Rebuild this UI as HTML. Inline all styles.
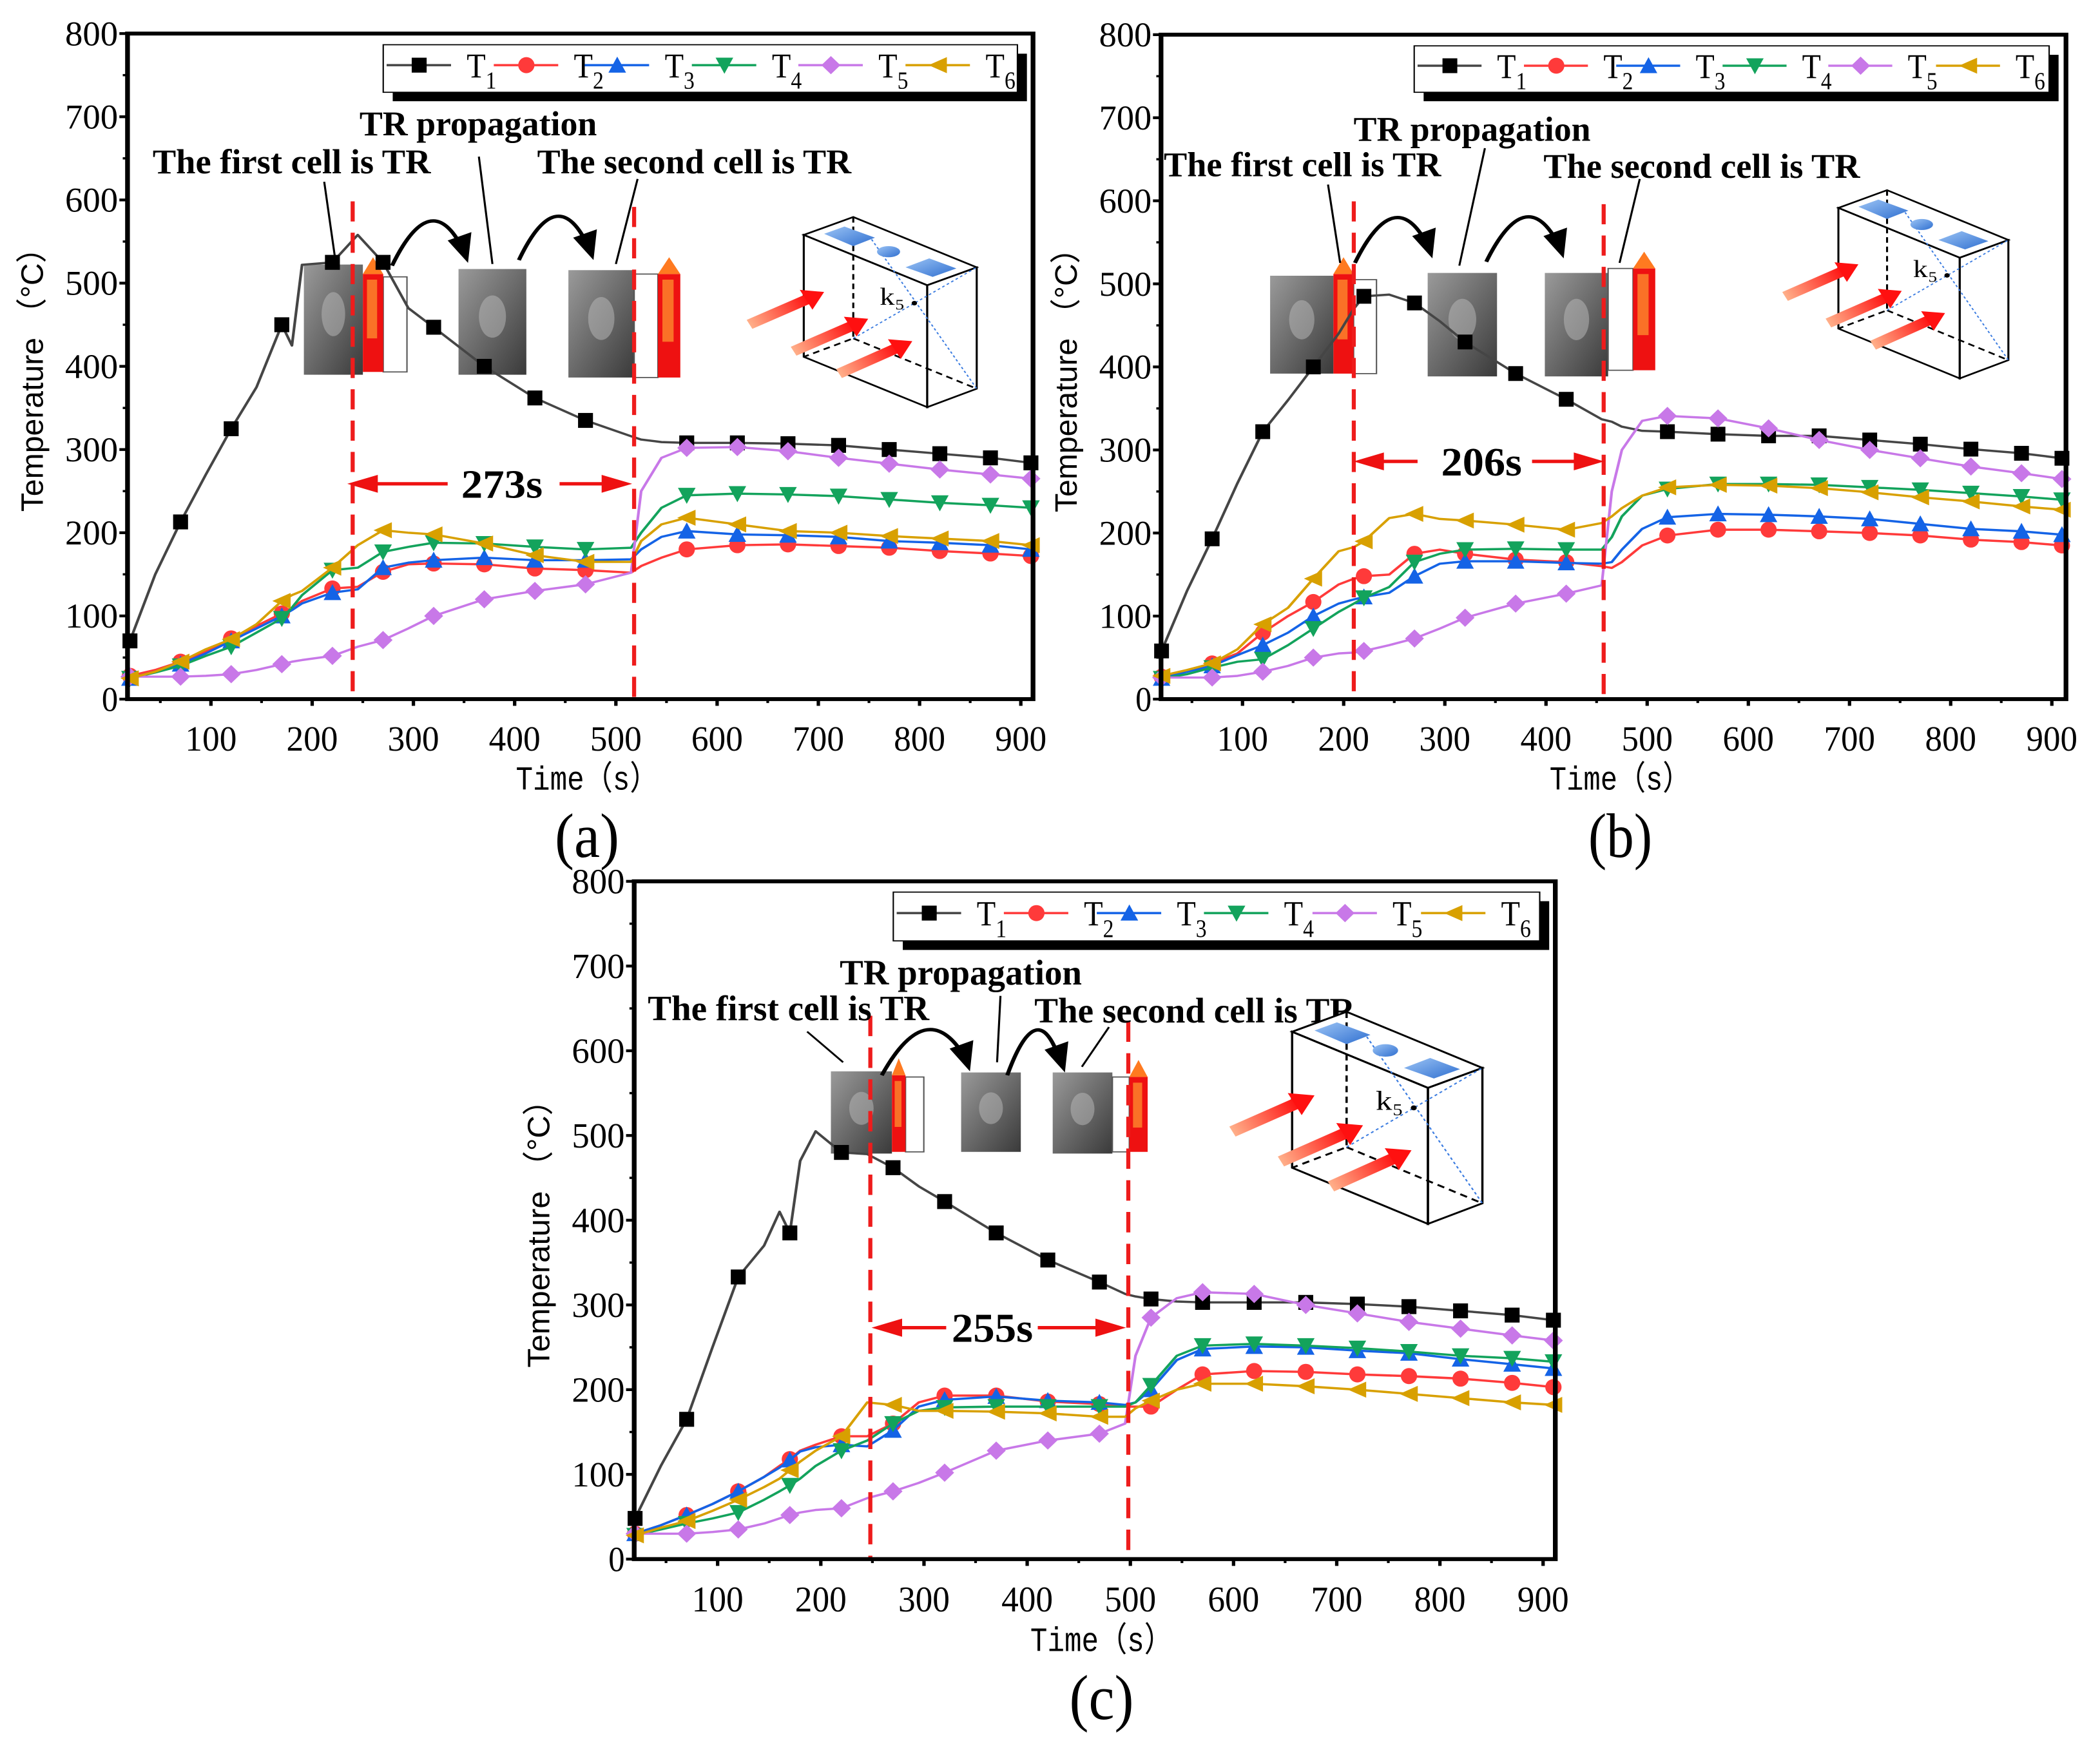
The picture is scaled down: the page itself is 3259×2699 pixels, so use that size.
<!DOCTYPE html>
<html><head><meta charset="utf-8"><style>
html,body{margin:0;padding:0;background:#fff}
svg{display:block}
</style></head><body>
<svg id="fig" width="3259" height="2699" viewBox="0 0 3259 2699" xmlns="http://www.w3.org/2000/svg"></svg>
<script>
// ---------- data ----------
const seriesNames = ['T1','T2','T3','T4','T5','T6'];
const yTicks = [0,100,200,300,400,500,600,700,800];
const xTicks = [100,200,300,400,500,600,700,800,900];

const timesA = [20,45,70,95,120,145,170,180,190,220,245,270,295,320,370,420,470,515,525,545,570,620,670,720,770,820,870,910];
const a_T1 = [70,150,213,270,325,375,450,425,522,525,558,525,470,447,400,362,335,316,312,309,308,308,307,305,300,295,290,284];
const a_T2 = [28,35,45,57,73,88,103,110,118,133,135,153,162,163,162,157,155,152,160,170,180,185,186,184,182,178,175,172];
const a_T3 = [25,33,42,55,70,85,100,107,115,128,132,158,164,167,170,167,167,168,180,195,202,198,197,195,190,188,185,180];
const a_T4 = [25,32,40,52,63,80,97,110,125,155,158,177,183,188,187,183,180,182,200,230,245,247,246,244,240,236,233,230];
const a_T5 = [27,27,27,28,30,35,42,45,47,52,63,71,85,100,120,130,138,152,250,290,302,303,298,290,283,276,270,265];
const a_T6 = [25,33,45,60,72,90,118,125,130,158,185,203,200,198,187,173,165,165,190,210,218,210,202,200,196,193,190,185];

const timesB = [20,45,70,95,120,145,170,195,210,220,245,270,295,320,370,420,455,465,475,495,520,570,620,670,720,770,820,870,910];
const b_T1 = [58,130,193,260,322,360,400,440,470,485,487,477,455,430,392,361,337,334,328,323,322,319,317,317,312,307,301,296,290];
const b_T2 = [27,33,43,55,80,100,117,138,145,148,150,175,180,175,168,165,160,158,165,185,197,204,204,202,200,197,192,189,185];
const b_T3 = [25,33,40,53,65,80,100,115,120,123,128,148,163,166,166,164,163,165,180,205,219,223,222,220,217,211,205,202,198];
const b_T4 = [25,30,38,45,48,65,85,105,115,122,135,165,175,180,181,180,180,195,220,245,253,259,259,258,255,252,248,244,240];
const b_T5 = [26,26,26,28,33,40,50,55,56,58,65,73,85,98,115,127,137,250,300,335,341,338,326,312,300,290,280,272,265];
const b_T6 = [28,35,43,60,90,110,145,178,183,190,218,223,217,215,210,204,212,220,230,245,255,258,257,254,249,243,238,232,228];

const timesC = [20,45,70,95,120,145,160,170,180,195,220,245,270,295,320,370,420,470,495,505,520,545,570,620,670,720,770,820,870,910];
const c_T1 = [48,110,165,250,333,370,410,385,470,505,480,478,462,440,422,385,353,327,313,310,307,304,303,303,303,301,298,293,288,282];
const c_T2 = [30,40,52,65,80,97,110,118,128,135,145,145,160,185,193,193,186,183,180,180,180,200,218,222,221,218,216,213,208,203];
const c_T3 = [30,40,52,65,80,97,108,117,127,132,135,133,152,180,188,192,187,185,182,185,200,235,248,251,250,246,243,236,230,225];
const c_T4 = [28,35,42,48,55,70,80,87,95,110,128,140,160,175,179,180,180,180,180,185,205,240,252,254,252,249,245,240,237,233];
const c_T5 = [30,30,30,32,35,42,48,52,55,58,60,72,80,90,102,128,140,148,160,240,285,308,315,313,300,290,280,272,264,258];
const c_T6 = [28,37,45,57,70,85,95,105,115,128,145,185,182,175,175,174,172,168,168,178,187,200,207,207,204,200,195,190,185,182];

const eventsA = [240,518]; const eventsB = [210,457]; const eventsC = [248,498];
const gapLabels = ['273s','206s','255s'];
const panelLabels = ['(a)','(b)','(c)'];

// ---------- style ----------
const colors = ['#454545','#ff3a3a','#1463e6','#13a35c','#c878e8','#d8a000'];
const mfill  = ['#000000','#ff3a3a','#1463e6','#13a35c','#c878e8','#d8a000'];
const NS = 'http://www.w3.org/2000/svg';
const fig = document.getElementById('fig');
function mk(tag, attrs, parent){ const e=document.createElementNS(NS,tag); for(const k in attrs) e.setAttribute(k,attrs[k]); (parent||fig).appendChild(e); return e; }

const panels = [
 {ox:0, oy:0, fx:0.95, fy:1.152, L:188,R:1523,T:60,B:1250, x100:311, x900:1505, times:timesA, data:[a_T1,a_T2,a_T3,a_T4,a_T5,a_T6], ev:eventsA,
  leg:[565,80,1500,165], legItems:[570,728,862,1020,1177,1335],
  tprop:[530,880,242], tfirst:[225,635,310], tsec:[792,1255,310],
  photos:[[448,473,87,197],[676,481,100,189],[838,483,97,192]],
  reds:[[535,490,30,175],[970,490,33,185]], whites:[[565,495,35,170],[935,490,35,185]],
  arcs:[[578,475,690,470],[765,465,875,465]],
  ptr:[[478,325,495,470],[706,280,726,472],[940,320,908,472]],
  gap:[740,890,512,932,660,825], dash:[360,370], box:[0,0,1]},
 {ox:1620, oy:0, fx:0.957, fy:1.152, L:174,R:1518,T:62,B:1250, x100:295, x900:1497, times:timesB, data:[b_T1,b_T2,b_T3,b_T4,b_T5,b_T6], ev:eventsB,
  leg:[550,82,1493,165], legItems:[555,713,850,1008,1165,1325],
  tprop:[460,812,252], tfirst:[178,590,315], tsec:[742,1212,318],
  photos:[[336,493,94,175],[570,488,103,185],[744,488,94,185]],
  reds:[[430,490,30,178],[875,480,33,182]], whites:[[460,500,34,168],[838,480,37,182]],
  arcs:[[462,470,577,462],[657,468,772,462]],
  ptr:[[422,330,440,470],[655,265,617,475],[885,320,855,470]],
  gap:[650,850,460,832,555,725], dash:[360,365], box:[-5,-48,0.99]},
 {ox:800, oy:1330, fx:0.95, fy:1.136, L:175,R:1533,T:43,B:1238, x100:298, x900:1515, times:timesC, data:[c_T1,c_T2,c_T3,c_T4,c_T5,c_T6], ev:eventsC,
  leg:[557,62,1510,148], legItems:[562,720,857,1015,1175,1335],
  tprop:[478,835,225], tfirst:[195,610,288], tsec:[765,1238,292],
  photos:[[465,378,90,145],[657,380,88,140],[792,380,88,143]],
  reds:[[555,385,20,135],[905,388,27,132]], whites:[[575,388,27,132],[880,388,25,132]],
  arcs:[[540,385,670,378],[725,385,810,380]],
  ptr:[[430,308,483,362],[715,245,710,362],[875,300,835,370]],
  gap:[703,855,525,900,635,770], dash:[280,290], box:[-40,-115,1.1]}
];

const defs = mk('defs',{});
const g1 = mk('linearGradient',{id:'photoG',x1:'0',y1:'0',x2:'1',y2:'1'},defs);
mk('stop',{offset:'0','stop-color':'#9a9a9a'},g1); mk('stop',{offset:'1','stop-color':'#3a3a3a'},g1);
const g2 = mk('linearGradient',{id:'arrG',x1:'0',y1:'0',x2:'1',y2:'0'},defs);
mk('stop',{offset:'0','stop-color':'#ffb08a'},g2); mk('stop',{offset:'1','stop-color':'#ff1010'},g2);
const g3 = mk('linearGradient',{id:'topG',x1:'0',y1:'0',x2:'1',y2:'1'},defs);
mk('stop',{offset:'0','stop-color':'#9cc4f5'},g3); mk('stop',{offset:'1','stop-color':'#2f6fd0'},g3);

function marker(g, i, x, y, k){
  const s=11, v=11*k; let e;
  if(i===0) e=mk('rect',{x:x-s,y:y-v,width:2*s,height:2*v,fill:mfill[0]},g);
  else if(i===1) e=mk('ellipse',{cx:x,cy:y,rx:s+1,ry:v+1,fill:mfill[1]},g);
  else if(i===2) e=mk('polygon',{points:`${x},${y-v-2} ${x+s+2},${y+v} ${x-s-2},${y+v}`,fill:mfill[2]},g);
  else if(i===3) e=mk('polygon',{points:`${x-s-2},${y-v} ${x+s+2},${y-v} ${x},${y+v+2}`,fill:mfill[3]},g);
  else if(i===4) e=mk('polygon',{points:`${x},${y-v-3} ${x+s+3},${y} ${x},${y+v+3} ${x-s-3},${y}`,fill:mfill[4]},g);
  else e=mk('polygon',{points:`${x-s-3},${y} ${x+s+2},${y-v-1} ${x+s+2},${y+v+1}`,fill:mfill[5]},g);
  return e;
}

panels.forEach((p,pi)=>{
  const g = mk('g',{transform:`translate(${p.ox},${p.oy}) scale(${1/p.fx},${1/p.fy})`});
  
  
  const k = p.fy/p.fx;
  const pxs=(p.x900-p.x100)/800;
  const X = t => p.x100 + (t-100)*pxs;
  const Y = v => p.B - v*(p.B-p.T)/800;

  yTicks.forEach(v=>{
    mk('line',{x1:p.L-12,x2:p.L,y1:Y(v),y2:Y(v),stroke:'#000','stroke-width':5},g);
    if(v<800) mk('line',{x1:p.L-7,x2:p.L,y1:Y(v+50),y2:Y(v+50),stroke:'#000','stroke-width':4},g);
    const t=mk('text',{x:p.L-14,y:Y(v)+21,'text-anchor':'end','font-family':'"Liberation Serif",serif','font-size':62,fill:'#000',textLength:v===0?24:78,lengthAdjust:'spacingAndGlyphs'},g);
    t.textContent=v;
    
    
  });
  xTicks.forEach(v=>{
    mk('line',{x1:X(v),x2:X(v),y1:p.B,y2:p.B+12,stroke:'#000','stroke-width':5},g);
    mk('line',{x1:X(v-50),x2:X(v-50),y1:p.B,y2:p.B+7,stroke:'#000','stroke-width':4},g);
    const t=mk('text',{x:X(v),y:p.B+92,'text-anchor':'middle','font-family':'"Liberation Serif",serif','font-size':64,fill:'#000',textLength:76,lengthAdjust:'spacingAndGlyphs'},g);
    t.textContent=v;
    
    
  });
  const yl=mk('text',{transform:`translate(${p.L-125},${(p.T+p.B)/2+10}) rotate(-90)`,'text-anchor':'middle','font-family':'"Liberation Sans",sans-serif','font-size':46,fill:'#000',textLength:500,lengthAdjust:'spacingAndGlyphs'},g);
  yl.textContent='Temperature （°C）';
  
  
  const xl=mk('text',{x:(p.L+p.R)/2+10,y:p.B+162,'text-anchor':'middle','font-family':'"Liberation Mono",monospace','font-size':60,fill:'#000',textLength:210,lengthAdjust:'spacingAndGlyphs'},g);
  xl.textContent='Time（s）';
  
  
  const pl=mk('text',{x:(p.L+p.R)/2+10,y:p.B+282,'text-anchor':'middle','font-family':'"Liberation Serif",serif','font-size':112,fill:'#000',textLength:95,lengthAdjust:'spacingAndGlyphs'},g);
  pl.textContent=panelLabels[pi];
  
  

  p.photos.forEach(r=>{
    const e=mk('rect',{x:r[0],y:r[1],width:r[2],height:r[3],fill:'url(#photoG)'},g);
    
    
    mk('ellipse',{cx:r[0]+r[2]/2,cy:r[1]+r[3]*0.45,rx:r[2]*0.2,ry:r[3]*0.2,fill:'#bbb',opacity:0.5},g);
  });
  p.whites.forEach(r=>{
    const e=mk('rect',{x:r[0],y:r[1],width:r[2],height:r[3],fill:'#fff',stroke:'#555','stroke-width':2},g);
    
    
  });
  p.reds.forEach(r=>{
    const e=mk('rect',{x:r[0],y:r[1],width:r[2],height:r[3],fill:'#ee1111'},g);
    
    
    mk('rect',{x:r[0]+r[2]*0.2,y:r[1]+10,width:r[2]*0.5,height:r[3]*0.6,fill:'#ff9a30',opacity:0.7},g);
    mk('polygon',{points:`${r[0]},${r[1]} ${r[0]+r[2]*0.5},${r[1]-30} ${r[0]+r[2]},${r[1]}`,fill:'#ff7a20'},g);
  });

  p.data.forEach((arr,si)=>{
    const sg=mk('g',{},g);
    
    
    const d=arr.map((v,j)=>(j?'L':'M')+X(p.times[j]).toFixed(1)+','+Y(v).toFixed(1)).join('');
    const path=mk('path',{d:d,fill:'none',stroke:colors[si],'stroke-width':4,'stroke-linejoin':'round'},sg);
    
    
    arr.forEach((v,j)=>{
      const t=p.times[j];
      if((t-20)%50===0 || t===910){
        const m=marker(sg,si,X(t),Y(v),k);
        
        
      }
    });
  });

  p.ev.forEach((t,j)=>{
    const e=mk('line',{x1:X(t),x2:X(t),y1:p.dash[j],y2:p.B,stroke:'#ee1c1c','stroke-width':6,'stroke-dasharray':'36,20'},g);
    
    
  });

  const fr=mk('rect',{x:p.L,y:p.T,width:p.R-p.L,height:p.B-p.T,fill:'none',stroke:'#000','stroke-width':7},g);
  
  

  const ga=p.gap; const ay=ga[1]-25;
  mk('line',{x1:ga[2]+30,x2:ga[4],y1:ay,y2:ay,stroke:'#ee1111','stroke-width':6},g);
  mk('line',{x1:ga[5],x2:ga[3]-30,y1:ay,y2:ay,stroke:'#ee1111','stroke-width':6},g);
  mk('polygon',{points:`${ga[2]},${ay} ${ga[2]+45},${ay-16} ${ga[2]+45},${ay+16}`,fill:'#ee1111'},g);
  mk('polygon',{points:`${ga[3]},${ay} ${ga[3]-45},${ay-16} ${ga[3]-45},${ay+16}`,fill:'#ee1111'},g);
  const gt=mk('text',{x:ga[0],y:ga[1],'text-anchor':'middle','font-family':'"Liberation Serif",serif','font-weight':'bold','font-size':72,fill:'#000',textLength:120,lengthAdjust:'spacingAndGlyphs'},g);
  gt.textContent=gapLabels[pi];
  
  

  [[p.tprop,'TR propagation','tr-propagation-label'],[p.tfirst,'The first cell is TR','first-cell-label'],[p.tsec,'The second cell is TR','second-cell-label']].forEach(a=>{
    const t=mk('text',{x:a[0][0],y:a[0][2],'font-family':'"Liberation Serif",serif','font-weight':'bold','font-size':62,fill:'#000',textLength:a[0][1]-a[0][0],lengthAdjust:'spacingAndGlyphs'},g);
    t.textContent=a[1];
    
    
  });
  p.ptr.forEach(l=>{
    const e=mk('line',{x1:l[0],y1:l[1],x2:l[2],y2:l[3],stroke:'#000','stroke-width':3},g);
    
    
  });
  p.arcs.forEach(a=>{
    const mx=(a[0]+a[2])/2, h=70;
    const e=mk('path',{d:`M${a[0]},${a[1]} Q${mx},${a[1]-2*h} ${a[2]-10},${a[3]-30}`,fill:'none',stroke:'#000','stroke-width':6},g);
    
    
    mk('polygon',{points:`${a[2]},${a[3]} ${a[2]-30},${a[3]-40} ${a[2]+5},${a[3]-55}`,fill:'#000'},g);
  });

  const bx=mk('g',{transform:`translate(${p.box[0]+1185*(1-p.box[2])},${p.box[1]+388*(1-p.box[2])}) scale(${p.box[2]})`},g);
  
  
  mk('polygon',{points:'1185,420 1258,388 1440,478 1367,510',fill:'#fff',stroke:'#000','stroke-width':3},bx);
  mk('polygon',{points:'1185,420 1367,510 1367,728 1185,638',fill:'none',stroke:'#000','stroke-width':3},bx);
  mk('polygon',{points:'1367,510 1440,478 1440,695 1367,728',fill:'none',stroke:'#000','stroke-width':3},bx);
  mk('path',{d:'M1258,388 L1258,605 L1185,638 M1258,605 L1440,695',stroke:'#000','stroke-width':3,'stroke-dasharray':'10,7',fill:'none'},bx);
  mk('path',{d:'M1285,428 L1440,695 M1258,605 L1440,478',stroke:'#3a7be0','stroke-width':2,'stroke-dasharray':'4,4',fill:'none'},bx);
  mk('polygon',{points:'1215,418 1245,405 1290,425 1258,440',fill:'url(#topG)'},bx);
  mk('ellipse',{cx:1310,cy:450,rx:17,ry:10,fill:'url(#topG)'},bx);
  mk('polygon',{points:'1335,478 1370,462 1410,480 1375,495',fill:'url(#topG)'},bx);
  mk('circle',{cx:1348,cy:542,r:4,fill:'#000'},bx);
  const kt=mk('text',{x:1297,y:545,'font-family':'"Liberation Serif",serif','font-size':44,fill:'#000'},bx);
  kt.textContent='k₅';
  
  
  [[1105,580,1215,522],[1170,628,1280,570],[1237,668,1345,610]].forEach(a=>{
    const ang=Math.atan2(a[3]-a[1],a[2]-a[0]);
    const e=mk('g',{transform:`translate(${a[0]},${a[1]}) rotate(${ang*180/Math.PI})`},bx);
    
    
    const len=Math.hypot(a[2]-a[0],a[3]-a[1]);
    mk('rect',{x:0,y:-9,width:len-25,height:18,fill:'url(#arrG)'},e);
    mk('polygon',{points:`${len-30},-20 ${len},0 ${len-30},20`,fill:'#ff1010'},e);
  });

  const lg=mk('g',{},g);
  
  
  const L=p.leg;
  mk('rect',{x:L[0]+14,y:L[1]+16,width:L[2]-L[0],height:L[3]-L[1],fill:'#000'},lg);
  mk('rect',{x:L[0],y:L[1],width:L[2]-L[0],height:L[3]-L[1],fill:'#fff',stroke:'#000','stroke-width':2},lg);
  p.legItems.forEach((x0,si)=>{
    const cy=(L[1]+L[3])/2-6;
    const it=mk('g',{},lg);
    
    
    mk('line',{x1:x0,x2:x0+95,y1:cy,y2:cy,stroke:colors[si],'stroke-width':4},it);
    marker(it,si,x0+48,cy,k);
    const t=mk('text',{x:x0+118,y:cy+22,'font-family':'"Liberation Serif",serif','font-size':62,fill:'#000',textLength:28,lengthAdjust:'spacingAndGlyphs'},it);
    t.textContent='T';
    const s=mk('text',{x:x0+146,y:cy+42,'font-family':'"Liberation Serif",serif','font-size':44,fill:'#000',textLength:16,lengthAdjust:'spacingAndGlyphs'},it);
    s.textContent=String(si+1);
  });
});
</script>
</body></html>
